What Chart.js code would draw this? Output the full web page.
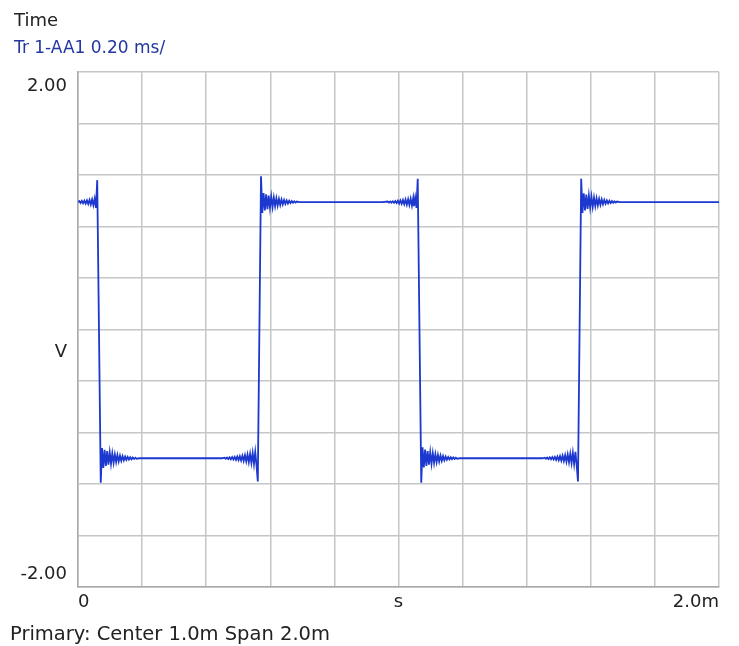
<!DOCTYPE html>
<html>
<head>
<meta charset="utf-8">
<title>Time - Tr 1-AA1</title>
<script src="https://cdn.jsdelivr.net/npm/chart.js"></script>
<style>
    body { margin: 0; background: #ffffff; }
    #wrap { position: relative; width: 739px; height: 646px; }
</style>
</head>
<body>
<div id="wrap"><canvas id="timeChart"></canvas></div>
<script>
// time in ms, voltage in V
const fall1 = [
    [0.000, 0.990], [0.004, 0.998], [0.008, 0.982], [0.012, 0.999], [0.016, 0.980],
    [0.020, 1.001], [0.024, 0.978], [0.028, 1.003], [0.032, 0.975], [0.036, 1.006],
    [0.040, 0.971], [0.044, 1.010], [0.048, 0.966], [0.052, 1.016], [0.056, 0.945],
    [0.060, 1.160], [0.071, -1.190],
    [0.075, -0.920], [0.079, -1.075], [0.083, -0.935], [0.087, -1.060], [0.091, -0.945],
    [0.095, -1.050], [0.099, -0.955], [0.103, -1.042], [0.107, -0.963], [0.111, -1.035],
    [0.115, -0.970], [0.119, -1.029], [0.123, -0.975], [0.127, -1.024], [0.131, -0.980],
    [0.135, -1.020], [0.139, -0.984], [0.143, -1.016], [0.147, -0.987], [0.151, -1.013],
    [0.155, -0.990], [0.159, -1.010], [0.163, -0.992], [0.167, -1.008], [0.171, -0.994],
    [0.175, -1.006], [0.179, -0.996], [0.183, -1.004], [0.190, -1.000]
];

const rise1 = [
    [0.450, -1.000], [0.457, -0.996], [0.461, -1.004], [0.465, -0.995], [0.469, -1.006],
    [0.473, -0.993], [0.477, -1.008], [0.481, -0.991], [0.485, -1.010], [0.489, -0.989],
    [0.493, -1.012], [0.497, -0.987], [0.501, -1.014], [0.505, -0.984], [0.509, -1.017],
    [0.513, -0.981], [0.517, -1.020], [0.521, -0.977], [0.525, -1.025], [0.529, -0.972],
    [0.533, -1.030], [0.537, -0.966], [0.541, -1.036], [0.545, -0.960], [0.549, -1.044],
    [0.553, -0.952], [0.557, -1.055], [0.561, -1.180], [0.571, 1.190],
    [0.575, 0.905], [0.579, 1.060], [0.583, 0.925], [0.587, 1.050], [0.591, 0.935],
    [0.595, 1.040], [0.599, 0.945], [0.603, 1.032], [0.607, 0.952], [0.611, 1.025],
    [0.615, 0.958], [0.619, 1.019], [0.623, 0.963], [0.627, 1.014], [0.631, 0.968],
    [0.635, 1.010], [0.639, 0.972], [0.643, 1.006], [0.647, 0.976], [0.651, 1.003],
    [0.655, 0.979], [0.659, 1.000], [0.663, 0.982], [0.667, 0.998], [0.671, 0.984],
    [0.675, 0.996], [0.679, 0.986], [0.683, 0.994], [0.690, 0.990]
];

const fall2 = [
    [0.950, 0.990], [0.966, 0.994], [0.970, 0.986], [0.974, 0.995], [0.978, 0.985],
    [0.982, 0.996], [0.986, 0.984], [0.990, 0.998], [0.994, 0.982], [0.998, 1.000],
    [1.002, 0.979], [1.006, 1.003], [1.010, 0.976], [1.014, 1.006], [1.018, 0.973],
    [1.022, 1.009], [1.026, 0.970], [1.030, 1.012], [1.034, 0.967], [1.038, 1.016],
    [1.042, 0.962], [1.046, 1.021], [1.048, 0.958], [1.052, 1.025], [1.056, 0.945],
    [1.060, 1.170], [1.071, -1.190],
    [1.075, -0.915], [1.079, -1.072], [1.083, -0.932], [1.087, -1.060], [1.091, -0.944],
    [1.095, -1.050], [1.099, -0.953], [1.103, -1.043], [1.107, -0.961], [1.111, -1.036],
    [1.115, -0.968], [1.119, -1.030], [1.123, -0.974], [1.127, -1.025], [1.131, -0.979],
    [1.135, -1.020], [1.139, -0.983], [1.143, -1.016], [1.147, -0.987], [1.151, -1.012],
    [1.155, -0.990], [1.159, -1.009], [1.163, -0.992], [1.167, -1.007], [1.171, -0.994],
    [1.175, -1.005], [1.179, -0.996], [1.183, -1.004], [1.190, -1.000]
];

const rise2 = [
    [1.450, -1.000], [1.456, -0.996], [1.460, -1.004], [1.464, -0.995], [1.468, -1.006],
    [1.472, -0.993], [1.476, -1.008], [1.480, -0.991], [1.484, -1.010], [1.488, -0.989],
    [1.492, -1.012], [1.496, -0.987], [1.500, -1.015], [1.504, -0.984], [1.508, -1.018],
    [1.512, -0.980], [1.516, -1.021], [1.520, -0.976], [1.524, -1.026], [1.528, -0.971],
    [1.532, -1.031], [1.536, -0.965], [1.540, -1.037], [1.544, -0.958], [1.548, -1.045],
    [1.552, -0.950], [1.556, -1.056], [1.560, -1.180], [1.570, 1.170],
    [1.574, 0.905], [1.578, 1.058], [1.582, 0.925], [1.586, 1.048], [1.590, 0.936],
    [1.594, 1.040], [1.598, 0.946], [1.602, 1.032], [1.606, 0.953], [1.610, 1.025],
    [1.614, 0.959], [1.618, 1.019], [1.622, 0.964], [1.626, 1.014], [1.630, 0.969],
    [1.634, 1.010], [1.638, 0.973], [1.642, 1.006], [1.646, 0.977], [1.650, 1.003],
    [1.654, 0.980], [1.658, 1.000], [1.662, 0.982], [1.666, 0.998], [1.670, 0.984],
    [1.674, 0.996], [1.678, 0.986], [1.682, 0.994], [1.690, 0.990], [2.000, 0.990]
];

// grid divisions and the few tick labels the analyzer shows
const xGridValues = [0, 0.2, 0.4, 0.6, 0.8, 1.0, 1.2, 1.4, 1.6, 1.8, 2.0];
const xTickValues = [0, 1.0, 2.0];
const xTickLabels = ['0', 's', '2.0m'];

const yGridValues = [-2.0, -1.6, -1.2, -0.8, -0.4, 0, 0.4, 0.8, 1.2, 1.6, 2.0];
const yTickValues = [1.89, -0.18, -1.9];
const yTickLabels = ['2.00', 'V', '-2.00'];

const headerText = 'Time';
const traceText = 'Tr 1-AA1 0.20 ms/';
const footerText = 'Primary: Center 1.0m Span 2.0m';

const traceColor = '#1c38cf';
const gridColor = '#c6c6c6';
const textColor = '#222222';
const fontFamily = '"DejaVu Sans", Verdana, sans-serif';

const tracePoints = [...fall1, ...rise1, ...fall2, ...rise2].map(([t, v]) => ({ x: t, y: v }));

function findLabel(values, labels, value) {
    const i = values.findIndex(v => Math.abs(v - value) < 1e-6);
    return i >= 0 ? labels[i] : '';
}

function isGridValue(values, value) {
    return values.some(v => Math.abs(v - value) < 1e-6);
}

const footerPlugin = {
    id: 'footerText',
    afterDraw(chart) {
        const ctx = chart.ctx;
        ctx.save();
        ctx.font = '19.5px ' + fontFamily;
        ctx.fillStyle = textColor;
        ctx.textBaseline = 'alphabetic';
        ctx.textAlign = 'left';
        ctx.fillText(footerText, 10, 640);
        ctx.restore();
    }
};

const ctx = document.getElementById('timeChart').getContext('2d');
const timeChart = new Chart(ctx, {
    type: 'scatter',
    data: {
        datasets: [{
            label: traceText,
            data: tracePoints,
            showLine: true,
            borderColor: traceColor,
            borderWidth: 1.8,
            pointRadius: 0,
            tension: 0,
            fill: false
        }]
    },
    options: {
        responsive: true,
        maintainAspectRatio: false,
        animation: false,
        layout: {
            padding: { left: 14, right: 20, top: 0, bottom: 31 }
        },
        plugins: {
            legend: { display: false },
            tooltip: { enabled: false },
            title: {
                display: true,
                text: headerText,
                align: 'start',
                color: textColor,
                font: { family: fontFamily, size: 18, weight: 'normal' },
                padding: { top: 11, bottom: 0 }
            },
            subtitle: {
                display: true,
                text: traceText,
                align: 'start',
                color: '#22379f',
                font: { family: fontFamily, size: 17, weight: 'normal' },
                padding: { top: 6, bottom: 13 }
            }
        },
        scales: {
            x: {
                type: 'linear',
                min: 0,
                max: 2.0,
                afterBuildTicks: scale => {
                    scale.ticks = xGridValues.map(v => ({ value: v }));
                },
                afterFit: scale => { scale.height = 28; },
                ticks: {
                    autoSkip: false,
                    maxRotation: 0,
                    align: 'inner',
                    padding: 5,
                    color: textColor,
                    font: { family: fontFamily, size: 18 },
                    callback: value => findLabel(xTickValues, xTickLabels, value)
                },
                grid: { color: gridColor, lineWidth: 1.5, drawTicks: false },
                border: { display: true, color: '#a9a9a9', width: 1.5 }
            },
            y: {
                type: 'linear',
                min: -2.0,
                max: 2.0,
                afterBuildTicks: scale => {
                    const values = [...yGridValues, ...yTickValues].sort((a, b) => a - b);
                    scale.ticks = values.map(v => ({ value: v }));
                },
                afterFit: scale => { scale.width = 64; },
                ticks: {
                    autoSkip: false,
                    padding: 11,
                    color: textColor,
                    font: { family: fontFamily, size: 18 },
                    callback: value => findLabel(yTickValues, yTickLabels, value)
                },
                grid: {
                    drawTicks: false,
                    lineWidth: 1.5,
                    color: context => isGridValue(yGridValues, context.tick.value) ? gridColor : 'rgba(0,0,0,0)'
                },
                border: { display: true, color: '#a9a9a9', width: 1.5 }
            }
        }
    },
    plugins: [footerPlugin]
});
</script>
</body>
</html>
